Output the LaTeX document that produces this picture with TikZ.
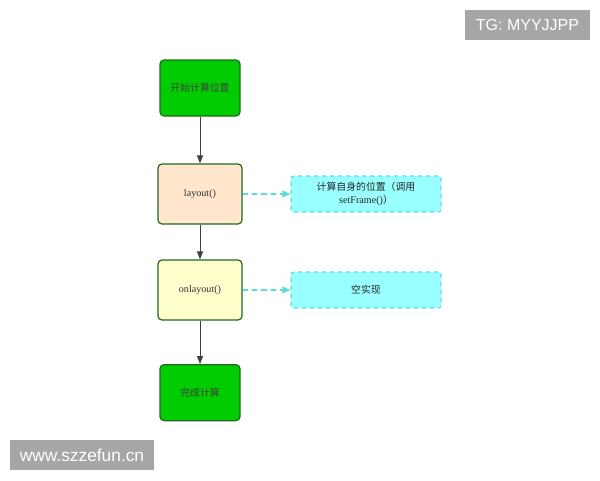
\documentclass[tikz,border=0pt]{standalone}
\usepackage{fontspec}
\setmainfont{Liberation Serif}
\newfontfamily\cjk{Noto Sans CJK SC}
\newfontfamily\wmfont{Liberation Sans}
\usetikzlibrary{positioning,arrows.meta}

\definecolor{boxgreen}{HTML}{00CC00}
\definecolor{edgegreen}{HTML}{1E6B1E}
\definecolor{bisque}{HTML}{FFE6CC}
\definecolor{paleyellow}{HTML}{FFFFCC}
\definecolor{palecyan}{HTML}{99FFFF}
\definecolor{dashcyan}{HTML}{5EDCDC}
\definecolor{wmgray}{HTML}{A6A6A6}

\tikzset{
  stepnode/.style={draw=edgegreen,line width=0.9pt,rounded corners=3pt,
    minimum width=63pt,minimum height=45pt,text=black!80,font=\fontsize{7.6}{9.5}\selectfont},
  termnode/.style={stepnode,fill=boxgreen,minimum width=60pt,minimum height=42pt,
    font=\cjk\fontsize{7.4}{9}\selectfont,text=black!75},
  notenode/.style={draw=dashcyan,dashed,line width=0.8pt,rounded corners=2pt,fill=palecyan,
    minimum width=112.5pt,minimum height=27pt,align=center,text=black!85,
    font=\fontsize{7.6}{9.5}\selectfont},
  flow/.style={-{Triangle[length=6pt,width=4.5pt]},draw=black!75,line width=0.75pt},
  hint/.style={-{Triangle[length=6pt,width=5pt]},draw=dashcyan,fill=dashcyan,
    dash pattern=on 4pt off 3pt,line width=1.1pt},
  mark box/.style={fill=wmgray,text=white,font=\wmfont\fontsize{12}{14}\selectfont,
    inner sep=0pt}
}

\begin{document}
\begin{tikzpicture}[x=0.75pt,y=-0.75pt,on grid]
  \useasboundingbox (0,0) rectangle (600,480);
  % main flow
  \node[termnode] (begin) at (200,88) {开始计算位置};
  \node[stepnode,fill=bisque] (layout) [below=79.5pt of begin] {layout()};
  \node[stepnode,fill=paleyellow] (onlayout) [below=72pt of layout] {onlayout()};
  \node[termnode] (finish) [below=77pt of onlayout] {完成计算};
  % notes
  \node[notenode] (calcnote) [right=124.5pt of layout] {{\cjk\fontsize{7.4}{9}\selectfont 计算自身的位置（调用}\\setFrame(){\cjk\fontsize{7.4}{9}\selectfont ）}};
  \node[notenode,font=\cjk\fontsize{7.4}{9}\selectfont] (emptynote) [right=124.5pt of onlayout] {空实现};
  \draw[flow] (begin) -- (layout);
  \draw[flow] (layout) -- (onlayout);
  \draw[flow] (onlayout) -- (finish);
  \draw[hint] (layout) -- (calcnote);
  \draw[hint] (onlayout) -- (emptynote);
  % watermarks
  \node[mark box,minimum width=93.75pt,minimum height=22.5pt] (tg) at (527.5,25) {TG: MYYJJPP};
  \node[mark box,minimum width=108pt,minimum height=22.5pt,font=\wmfont\fontsize{13}{15}\selectfont] (site) at (82,455) {www.szzefun.cn};
\end{tikzpicture}
\end{document}
